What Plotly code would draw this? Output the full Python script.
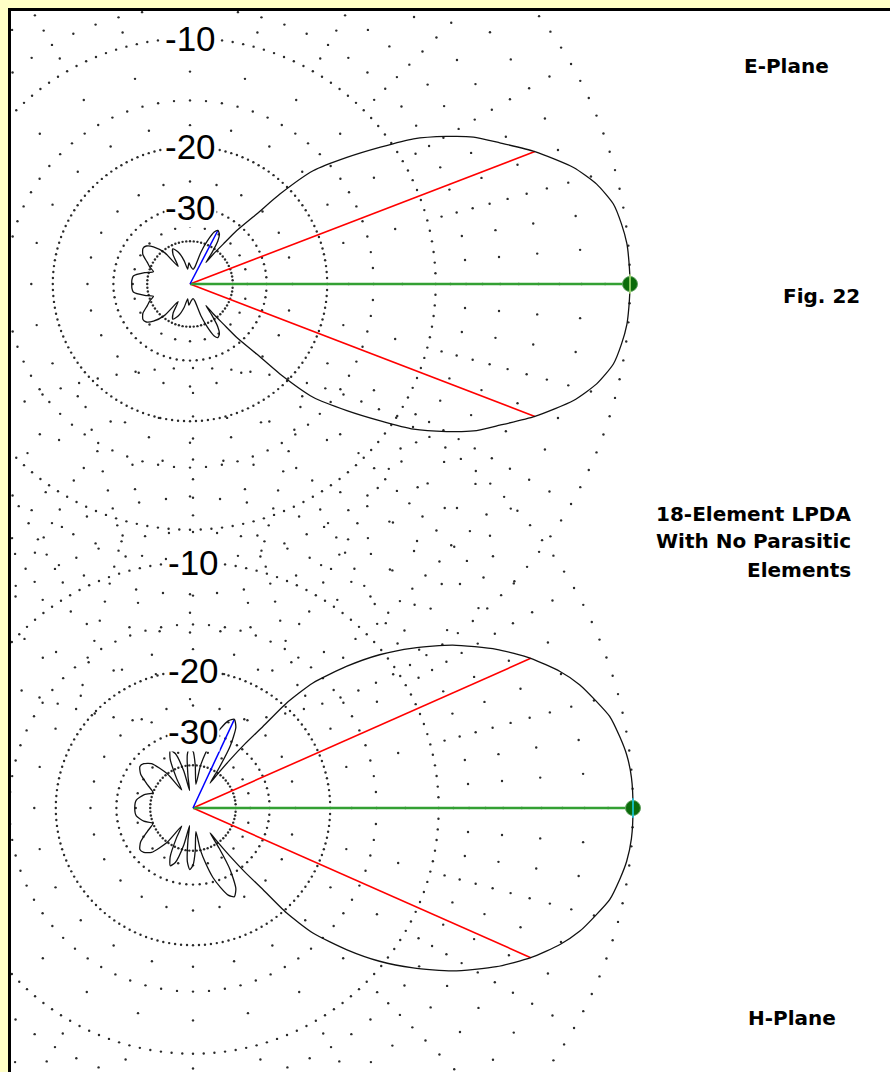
import numpy as np
import plotly.graph_objects as go

# ---------------------------------------------------------------------------
# Radiation patterns of an 18-element LPDA (upper half, 0..180 deg, in dB
# relative to the forward maximum).  Both patterns are symmetric about 0 deg.
# ---------------------------------------------------------------------------
e_angle = [0, 3, 5.3, 7.9, 10.7, 13.8, 16.9, 21, 24.5, 27.4, 29.9, 33, 35.7,
           38.9, 42.6, 45, 46.4, 48.8, 50.2, 52, 53.5, 55, 57, 59.5, 62.5, 65,
           68, 71, 74, 78, 86, 93, 99, 104, 110, 116, 120, 124, 129, 134.5,
           139, 143, 148, 153, 157, 161.5, 166, 172, 176, 180]
e_db = [0, -0.02, -0.05, -0.17, -0.36, -0.85, -1.6, -3.0, -4.4, -5.5, -6.8,
        -8.6, -10.8, -13.4, -16.6, -21.3, -26, -31.3, -36.7, -42, -48, -42,
        -37, -34.8, -34.1, -35, -38.6, -44, -55, -58, -56, -52, -58, -50, -44,
        -41.5, -44, -52, -41, -36.6, -34.8, -34.5, -35.5, -38, -39.6, -41.8,
        -38.5, -35, -34.7, -34.7]

h_angle = [0, 4, 7, 9.5, 12.4, 14.8, 17.7, 20.4, 23.9, 27.6, 32.1, 36, 39.4,
           42.7, 46.2, 48.3, 49.4, 51, 52.5, 54, 55.5, 57, 59, 62, 65, 68, 71,
           74, 77, 80, 83, 87, 90, 93, 96, 99, 101, 104, 108, 111.5, 115, 119,
           122, 127, 133, 138, 142, 147, 153, 159, 165, 172, 180]
h_db = [0, -0.02, -0.12, -0.29, -0.53, -0.91, -1.39, -2.0, -3.0, -4.3, -6.2,
        -8.25, -10.3, -12.8, -16, -19.6, -24.2, -28.8, -34, -40, -46, -38, -31,
        -27, -25.8, -26.5, -28.5, -31, -35, -40, -50, -40, -35, -33.7, -36,
        -45, -55, -42, -35, -33.6, -36, -44, -52, -40, -34, -32.5, -32.2,
        -33.5, -37, -40, -37, -35, -34.7]

# Cursor readouts: forward maximum, half-power points and strongest sidelobe
e_max = (0, 0.0)
e_half_power = [(21, -3.0), (-21, -3.0)]
e_sidelobe = (62.5, -34.1)
h_max = (0, 0.0)
h_half_power = [(23.9, -3.0), (-23.9, -3.0)]
h_sidelobe = (65, -25.8)

ring_labels = ["-10", "-20", "-30"]
ring_label_db = [-10, -20, -30]

# Grid definition (ARRL log-periodic radial scale): (level dB, dot step deg)
circle_grid = [(0, 2.5), (-10, 2.5), (-20, 2.5), (-30, 5), (-40, 5)]
dense_ring_db = [-2, -4, -6, -8, -15]   # spoke dots every 5 deg
sparse_ring_db = [-1, -3, -5, -7, -9, -12.5, -17.5, -25, -35]  # every 15 deg

W, H = 890, 1072
PANEL_X0, PANEL_Y0 = 11, 11          # white panel starts here (px)
SCALE = 440                          # px for 0 dB radius
CENTERS = {"top": (190, 284), "bottom": (193, 808)}


def rho(db):
    """ARRL log-periodic radial scale: 0.89 per 2 dB."""
    return 0.89 ** (-np.asarray(db, dtype=float) / 2.0)


def to_xy(ang, db):
    r = rho(db)
    t = np.radians(np.asarray(ang, dtype=float))
    return r * np.cos(t), r * np.sin(t)


def full_pattern(ang, db):
    ang = list(ang)
    db = list(db)
    a = ang + [-v for v in reversed(ang[1:-1])] + [ang[0]]
    d = db + list(reversed(db[1:-1])) + [db[0]]
    return a, d


def grid_points():
    levels = list(circle_grid)
    levels += [(lvl, 5) for lvl in dense_ring_db]
    levels += [(lvl, 15) for lvl in sparse_ring_db]
    xs, ys = [], []
    for lvl, step in levels:
        a = np.arange(0, 360, step)
        x, y = to_xy(a, np.full(a.shape, lvl))
        xs.append(x)
        ys.append(y)
    return np.concatenate(xs), np.concatenate(ys)


fig = go.Figure()

plots = [
    ("top", "x", "y", e_angle, e_db, e_max, e_half_power, e_sidelobe),
    ("bottom", "x2", "y2", h_angle, h_db, h_max, h_half_power, h_sidelobe),
]

gx, gy = grid_points()
for key, xa, ya, ang, db, mx, hp, sl in plots:
    fig.add_trace(go.Scatter(x=gx, y=gy, xaxis=xa, yaxis=ya, mode="markers",
                             marker=dict(size=2.4, color="#2a2a2a"),
                             hoverinfo="skip", showlegend=False))
    # half-power lines
    for a, d in hp:
        px, py = to_xy([a], [d])
        fig.add_trace(go.Scatter(x=[0, px[0]], y=[0, py[0]], xaxis=xa, yaxis=ya,
                                 mode="lines", line=dict(color="#ff0000", width=1.6),
                                 hoverinfo="skip", showlegend=False))
    # forward maximum line
    px, py = to_xy([mx[0]], [mx[1]])
    fig.add_trace(go.Scatter(x=[0, px[0]], y=[0, py[0]], xaxis=xa, yaxis=ya,
                             mode="lines", line=dict(color="#33a033", width=2.6),
                             hoverinfo="skip", showlegend=False))
    # sidelobe line
    sx, sy = to_xy([sl[0]], [sl[1]])
    fig.add_trace(go.Scatter(x=[0, sx[0]], y=[0, sy[0]], xaxis=xa, yaxis=ya,
                             mode="lines", line=dict(color="#0000ff", width=1.5),
                             hoverinfo="skip", showlegend=False))
    # pattern outline
    fa, fd = full_pattern(ang, db)
    x, y = to_xy(fa, fd)
    fig.add_trace(go.Scatter(x=x, y=y, xaxis=xa, yaxis=ya, mode="lines",
                             line=dict(color="#111111", width=1.3, shape="spline",
                                       smoothing=0.6),
                             hoverinfo="skip", showlegend=False))
    # cursor dot at the maximum
    fig.add_trace(go.Scatter(x=px, y=py, xaxis=xa, yaxis=ya, mode="markers",
                             marker=dict(size=15, color="#0b6b0b",
                                         line=dict(color="#5f9f5f", width=1)),
                             hoverinfo="skip", showlegend=False))
    fig.add_trace(go.Scatter(x=px, y=py, xaxis=xa, yaxis=ya, mode="markers",
                             marker=dict(size=14, symbol="line-ns-open",
                                         line=dict(color="#d020d0", width=1.5)),
                             hoverinfo="skip", showlegend=False))
    # ring labels
    for txt, lvl in zip(ring_labels, ring_label_db):
        fig.add_annotation(x=0, y=float(rho(lvl)), xref=xa, yref=ya, text=txt,
                           showarrow=False, bgcolor="white", borderpad=0,
                           font=dict(family="Liberation Sans, Arial", size=35,
                                     color="black"),
                           xanchor="center", yanchor="middle")

dom_x = [PANEL_X0 / W, 1]
dom_y = [0, 1 - PANEL_Y0 / H]
for key, xa, ya in [("top", "xaxis", "yaxis"), ("bottom", "xaxis2", "yaxis2")]:
    cx, cy = CENTERS[key]
    xr = [(PANEL_X0 - cx) / SCALE, (W - cx) / SCALE]
    yr = [(cy - H) / SCALE, (cy - PANEL_Y0) / SCALE]
    anchor_x = "y" if xa == "xaxis" else "y2"
    anchor_y = "x" if ya == "yaxis" else "x2"
    fig.update_layout({
        xa: dict(domain=dom_x, range=xr, visible=False, fixedrange=True,
                 anchor=anchor_x),
        ya: dict(domain=dom_y, range=yr, visible=False, fixedrange=True,
                 anchor=anchor_y),
    })


def paper_text(text, px, py, anchor="center", size=20):
    fig.add_annotation(x=px / W, y=1 - py / H, xref="paper", yref="paper",
                       text=text, showarrow=False, xanchor=anchor,
                       yanchor="middle",
                       font=dict(family="DejaVu Sans", size=size, color="black",
                                 weight="bold"))


paper_text("E-Plane", 786, 66)
paper_text("Fig. 22", 821, 296)
paper_text("18-Element LPDA", 853, 514, anchor="right")
paper_text("With No Parasitic", 853, 541, anchor="right")
paper_text("Elements", 853, 570, anchor="right")
paper_text("H-Plane", 792, 1018)

fig.update_layout(
    width=W, height=H, margin=dict(l=0, r=0, t=0, b=0),
    paper_bgcolor="#ffffc6", plot_bgcolor="rgba(0,0,0,0)",
    showlegend=False,
    shapes=[
        dict(type="rect", xref="paper", yref="paper", x0=PANEL_X0 / W, x1=1,
             y0=0, y1=1 - PANEL_Y0 / H, fillcolor="white", line=dict(width=0),
             layer="below"),
        dict(type="line", xref="paper", yref="paper", x0=9.5 / W, x1=9.5 / W,
             y0=-0.01, y1=1 - 8 / H, line=dict(color="black", width=3)),
        dict(type="line", xref="paper", yref="paper", x0=8 / W, x1=1.01,
             y0=1 - 9.5 / H, y1=1 - 9.5 / H, line=dict(color="black", width=3)),
    ],
)

fig.write_html("out.html")
